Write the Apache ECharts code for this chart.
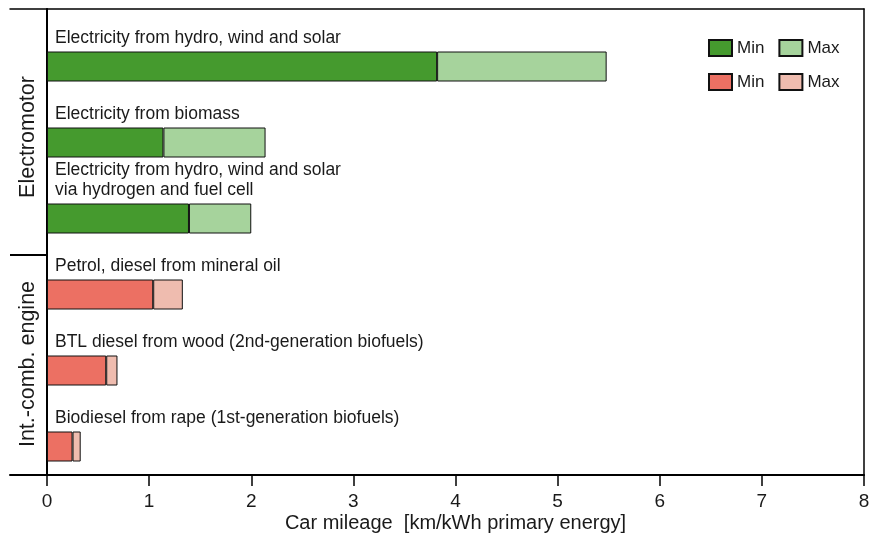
<!DOCTYPE html>
<html>
<head>
<meta charset="utf-8">
<script src="https://cdn.jsdelivr.net/npm/echarts@6/dist/echarts.min.js"></script>
<style>
html,body{margin:0;padding:0;background:#fff;}
#chart{width:869px;height:535px;}
</style>
</head>
<body>
<div id="chart"></div>
<script>
// ---- data ----
const categories = [
  'Electricity from hydro, wind and solar',
  'Electricity from biomass',
  'Electricity from hydro, wind and solar\nvia hydrogen and fuel cell',
  'Petrol, diesel from mineral oil',
  'BTL diesel from wood (2nd-generation biofuels)',
  'Biodiesel from rape (1st-generation biofuels)'
];
const groups = ['electric', 'electric', 'electric', 'combustion', 'combustion', 'combustion'];
const minValues = [3.82, 1.14, 1.39, 1.04, 0.58, 0.25];
const maxValues = [5.48, 2.14, 2.00, 1.33, 0.69, 0.33];
const groupLabels = ['Electromotor', 'Int.-comb. engine'];
const xTicks = [0, 1, 2, 3, 4, 5, 6, 7, 8];
const xAxisTitle = 'Car mileage  [km/kWh primary energy]';

const FONT = "'Liberation Sans', Arial, Helvetica, sans-serif";
const TXT = '#1a1a1a';
const colors = {
  electric: { min: '#459a2e', max: '#a6d39c' },
  combustion: { min: '#ec7063', max: '#efbcaf' }
};

function seriesFor(group, kind) {
  return categories.map((c, i) => {
    if (groups[i] !== group) return '-';
    return kind === 'min' ? minValues[i] : +(maxValues[i] - minValues[i]).toFixed(3);
  });
}

const barSeries = [];
['electric', 'combustion'].forEach(g => {
  barSeries.push({
    name: 'Min (' + g + ')', type: 'bar', stack: 'total',
    xAxisIndex: 3, yAxisIndex: 3, barWidth: 30,
    itemStyle: { color: colors[g].min, borderColor: '#111', borderWidth: 1 },
    data: seriesFor(g, 'min'),
    label: {
      show: true, position: [8, -3], align: 'left', verticalAlign: 'bottom',
      fontFamily: FONT, fontSize: 17.5, lineHeight: 20, color: TXT,
      formatter: p => categories[p.dataIndex]
    },
    emphasis: { disabled: true },
    animation: false
  });
  barSeries.push({
    name: 'Max (' + g + ')', type: 'bar', stack: 'total',
    xAxisIndex: 3, yAxisIndex: 3, barWidth: 30,
    itemStyle: { color: colors[g].max, borderColor: '#111', borderWidth: 1 },
    data: seriesFor(g, 'max'),
    emphasis: { disabled: true },
    animation: false
  });
});

const chart = echarts.init(document.getElementById('chart'), null, { renderer: 'canvas' });
const lineStyleBlack = w => ({ show: true, onZero: false, lineStyle: { color: '#000', width: w } });
const legendFmt = n => n.split(' ')[0];
const bare = { axisTick: { show: false }, axisLabel: { show: false }, splitLine: { show: false } };

chart.setOption({
  animation: false,
  backgroundColor: '#fff',
  textStyle: { fontFamily: FONT },
  legend: [
    { data: ['Min (electric)', 'Max (electric)'], left: 703, top: 34, itemWidth: 23, itemHeight: 16, itemGap: 14,
      icon: 'rect', formatter: legendFmt, selectedMode: false,
      textStyle: { fontFamily: FONT, fontSize: 17, color: TXT } },
    { data: ['Min (combustion)', 'Max (combustion)'], left: 703, top: 68, itemWidth: 23, itemHeight: 16, itemGap: 14,
      icon: 'rect', formatter: legendFmt, selectedMode: false,
      textStyle: { fontFamily: FONT, fontSize: 17, color: TXT } }
  ],
  grid: [
    { left: 47, right: 5, top: 9, bottom: 60, containLabel: false, outerBoundsMode: 'none' },      // frame + value axis
    { left: 10, width: 37, top: 9, bottom: 60, containLabel: false, outerBoundsMode: 'none' },      // left label strip
    { left: 47, right: 5, top: 28.5, bottom: 50.5, containLabel: false, outerBoundsMode: 'none' }   // bars
  ],
  xAxis: [
    { gridIndex: 0, type: 'value', min: xTicks[0], max: xTicks[xTicks.length - 1], interval: 1, position: 'bottom',
      axisLine: lineStyleBlack(2),
      axisTick: { show: true, length: 11, lineStyle: { color: '#000', width: 1.5 } },
      axisLabel: { fontFamily: FONT, fontSize: 19, color: TXT, margin: 17 },
      splitLine: { show: false },
      name: xAxisTitle, nameLocation: 'middle', nameGap: 38, nameMoveOverlap: false,
      nameTextStyle: { fontFamily: FONT, fontSize: 20, color: TXT } },
    Object.assign({ gridIndex: 0, type: 'value', min: 0, max: 8, position: 'top', axisLine: lineStyleBlack(1.5) }, bare),
    Object.assign({ gridIndex: 1, type: 'value', min: 0, max: 1, position: 'bottom', axisLine: lineStyleBlack(2) }, bare),
    { gridIndex: 2, type: 'value', min: 0, max: 8, show: false },
    Object.assign({ gridIndex: 1, type: 'value', min: 0, max: 1, position: 'top', axisLine: lineStyleBlack(1.5) }, bare)
  ],
  yAxis: [
    Object.assign({ gridIndex: 0, type: 'value', min: 0, max: 1, position: 'left', axisLine: lineStyleBlack(2) }, bare),
    Object.assign({ gridIndex: 0, type: 'value', min: 0, max: 1, position: 'right', axisLine: lineStyleBlack(1.5) }, bare),
    { gridIndex: 1, type: 'value', show: false },
    { gridIndex: 2, type: 'category', data: categories, inverse: true, show: false }
  ],
  graphic: [
    { type: 'line', shape: { x1: 10, y1: 255, x2: 47, y2: 255 }, style: { stroke: '#000', lineWidth: 2 } },
    { type: 'text', x: 28, y: 137, rotation: Math.PI / 2,
      style: { text: groupLabels[0], fontFamily: FONT, fontSize: 21.5, fill: TXT, align: 'center', verticalAlign: 'middle' } },
    { type: 'text', x: 28, y: 364, rotation: Math.PI / 2,
      style: { text: groupLabels[1], fontFamily: FONT, fontSize: 21.5, fill: TXT, align: 'center', verticalAlign: 'middle' } }
  ],
  series: barSeries
});
</script>
</body>
</html>
